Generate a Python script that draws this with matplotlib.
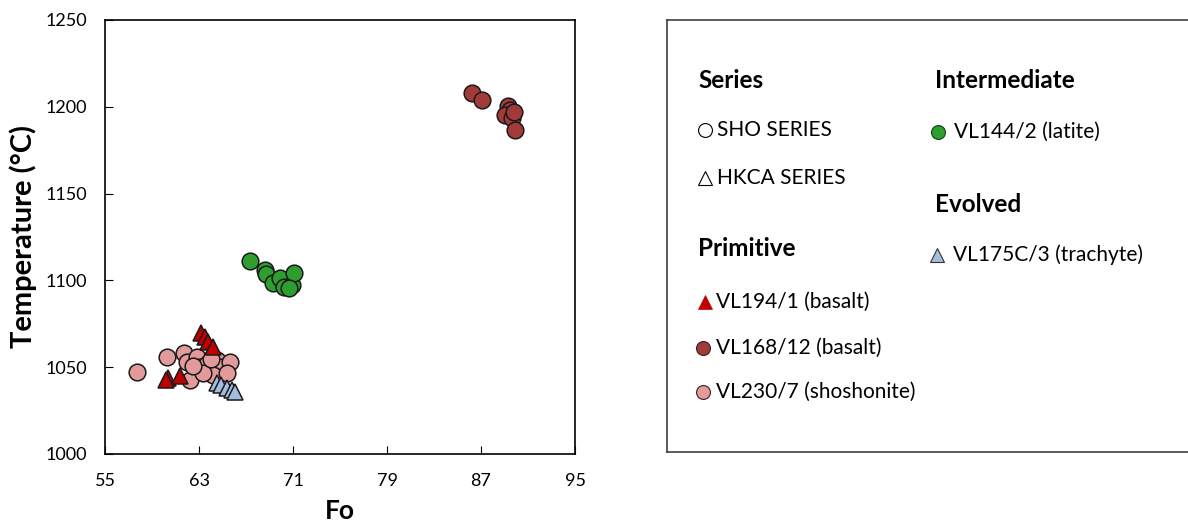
import matplotlib.pyplot as plt

plt.rcParams['font.family'] = ['Lato', 'DejaVu Sans']

# Fo vs temperature
vl194_fo = [63.2, 63.5, 63.8, 64.2, 60.4, 61.4, 60.2]
vl194_t = [1069.5, 1067.6, 1064.7, 1061.8, 1043.6, 1045.0, 1042.5]

vl168_fo = [86.2, 87.1, 89.3, 89.5, 89.0, 89.6, 89.8, 89.9]
vl168_t = [1207.8, 1204.0, 1200.5, 1198.0, 1195.0, 1193.5, 1197.0, 1186.6]

vl230_fo = [57.75, 60.3, 61.7, 62.0, 62.2, 62.8, 63.1, 63.7, 63.9, 64.5, 64.8,
            65.6, 64.2, 65.4, 63.3, 62.5, 64.0]
vl230_t = [1047.0, 1056.0, 1058.0, 1053.0, 1042.6, 1056.0, 1050.0, 1052.0, 1048.0,
           1054.0, 1050.0, 1053.0, 1045.5, 1046.5, 1046.6, 1050.5, 1055.0]

vl144_fo = [67.3, 68.6, 68.7, 69.3, 69.9, 70.2, 70.9, 71.1, 70.7]
vl144_t = [1111.3, 1106.0, 1103.5, 1098.7, 1101.2, 1096.4, 1097.4, 1104.0, 1095.6]

vl175_fo = [64.5, 64.9, 65.4, 65.8, 66.1]
vl175_t = [1040.7, 1039.7, 1037.8, 1036.9, 1035.9]

c_vl194 = '#C00000'
c_vl168 = '#A33A3A'
c_vl230 = '#E39A9A'
c_vl144 = '#2E9E2E'
c_vl175 = '#A3BDE0'

fig = plt.figure(figsize=(11.88, 5.24), dpi=100)
ax = fig.add_axes([105 / 1188, 70 / 524, 470 / 1188, 434 / 524])

ms = 12
kw = dict(linestyle='none', markeredgecolor='#1a1a1a', markeredgewidth=1.1)
ax.plot(vl230_fo, vl230_t, 'o', color=c_vl230, markersize=ms, **kw)
ax.plot(vl194_fo, vl194_t, '^', color=c_vl194, markersize=ms, **kw)
ax.plot(vl175_fo, vl175_t, '^', color=c_vl175, markersize=ms, **kw)
ax.plot(vl144_fo, vl144_t, 'o', color=c_vl144, markersize=ms, **kw)
ax.plot(vl168_fo, vl168_t, 'o', color=c_vl168, markersize=ms, **kw)

ax.set_xlim(55, 95)
ax.set_ylim(1000, 1250)
ax.set_xticks([55, 63, 71, 79, 87, 95])
ax.set_yticks([1000, 1050, 1100, 1150, 1200, 1250])
ax.tick_params(direction='in', length=6, labelsize=13, pad=13)
ax.tick_params(axis='x', pad=14)
for s in ax.spines.values():
    s.set_linewidth(1.2)
ax.set_xlabel('Fo', fontsize=19, fontweight='bold', labelpad=7)
ax.set_ylabel('Temperature (°C)', fontsize=21, fontweight='bold', labelpad=6)

# legend panel
L, R, T, B = 667, 1200, 20, 452
lg = fig.add_axes([L / 1188, (524 - B) / 524, (R - L) / 1188, (B - T) / 524])
lg.set_xlim(L, R)
lg.set_ylim(B, T)
lg.set_xticks([])
lg.set_yticks([])
for s in lg.spines.values():
    s.set_color('#404040')
    s.set_linewidth(1.2)

hs = 17.5
fs = 15
heads = [('Series', 698, 80), ('Primitive', 698, 249),
         ('Intermediate', 935, 80), ('Evolved', 935, 205)]
for txt, x, y in heads:
    lg.text(x, y, txt, fontsize=hs, fontweight='bold', va='center', ha='left')

entries = [
    ('o', 'white', 705, 130, 717, 'SHO SERIES', 'black', 0.8),
    ('^', 'white', 705, 178, 717, 'HKCA SERIES', 'black', 0.8),
    ('^', c_vl194, 705, 302, 716, 'VL194/1 (basalt)', c_vl194, 0.5),
    ('o', c_vl168, 703, 348, 716, 'VL168/12 (basalt)', '#3a1a1a', 0.8),
    ('o', c_vl230, 703, 392, 716, 'VL230/7 (shoshonite)', '#3a2020', 0.8),
    ('o', c_vl144, 938, 132, 954, 'VL144/2 (latite)', '#1a3a1a', 0.8),
    ('^', c_vl175, 937, 255, 953, 'VL175C/3 (trachyte)', '#333333', 0.8),
]
for m, fc, mx, my, tx, txt, ec, ew in entries:
    lg.plot([mx], [my], m, markersize=10, markerfacecolor=fc,
            markeredgecolor=ec, markeredgewidth=ew)
    lg.text(tx, my, txt, fontsize=fs, va='center', ha='left')

fig.savefig('out.png', dpi=100)
